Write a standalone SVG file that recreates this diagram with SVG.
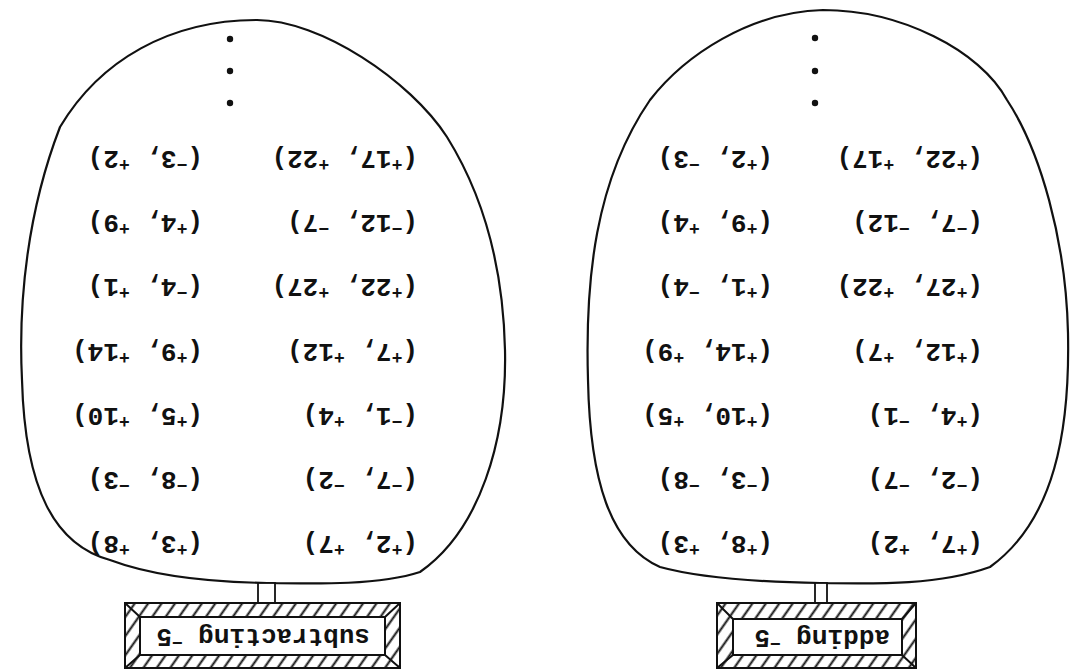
<svg xmlns="http://www.w3.org/2000/svg" width="1070" height="670" viewBox="0 0 1070 670">
<defs>
<style>
.egg{fill:none;stroke:#111;stroke-width:2.2}
.box{fill:none;stroke:#111;stroke-width:2}
.stem{fill:#fff;stroke:#111;stroke-width:1.8}
.dot{fill:#111}
.p{font-family:"Liberation Mono","DejaVu Sans Mono",monospace;font-size:26px;font-weight:bold;fill:#111}
.s{font-size:18px;baseline-shift:8px}
.lab{font-family:"Liberation Mono","DejaVu Sans Mono",monospace;font-size:26px;font-weight:bold;fill:#111}
</style>
<pattern id="hatch" width="11" height="11" patternUnits="userSpaceOnUse" patternTransform="rotate(35)">
<line x1="5.5" y1="0" x2="5.5" y2="11" stroke="#111" stroke-width="2"/>
</pattern>
</defs>
<rect width="1070" height="670" fill="#fff"/>

<g id="machine-subtracting">
<path class="egg" d="M257,20 C320,20 410,80 447,137 C480,190 503,260 505,350 C507,440 480,530 420,572 C380,585 320,584 267,583 C200,582 150,575 110,560 C55,545 25,490 22,380 C18,300 28,210 60,127 C100,60 170,20 257,20 Z"/>
<circle class="dot" cx="230" cy="39" r="3.2"/>
<circle class="dot" cx="230" cy="71" r="3.2"/>
<circle class="dot" cx="230" cy="103" r="3.2"/>
<text class="p" x="203" y="151" transform="rotate(180 203 151)">(<tspan class="s">−</tspan>3, <tspan class="s">+</tspan>2)</text>
<text class="p" x="203" y="215" transform="rotate(180 203 215)">(<tspan class="s">+</tspan>4, <tspan class="s">+</tspan>9)</text>
<text class="p" x="203" y="279" transform="rotate(180 203 279)">(<tspan class="s">−</tspan>4, <tspan class="s">+</tspan>1)</text>
<text class="p" x="203" y="344" transform="rotate(180 203 344)">(<tspan class="s">+</tspan>9, <tspan class="s">+</tspan>14)</text>
<text class="p" x="203" y="408" transform="rotate(180 203 408)">(<tspan class="s">+</tspan>5, <tspan class="s">+</tspan>10)</text>
<text class="p" x="203" y="472" transform="rotate(180 203 472)">(<tspan class="s">−</tspan>8, <tspan class="s">−</tspan>3)</text>
<text class="p" x="203" y="536" transform="rotate(180 203 536)">(<tspan class="s">+</tspan>3, <tspan class="s">+</tspan>8)</text>
<text class="p" x="418" y="151" transform="rotate(180 418 151)">(<tspan class="s">+</tspan>17, <tspan class="s">+</tspan>22)</text>
<text class="p" x="418" y="215" transform="rotate(180 418 215)">(<tspan class="s">−</tspan>12, <tspan class="s">−</tspan>7)</text>
<text class="p" x="418" y="279" transform="rotate(180 418 279)">(<tspan class="s">+</tspan>22, <tspan class="s">+</tspan>27)</text>
<text class="p" x="418" y="344" transform="rotate(180 418 344)">(<tspan class="s">+</tspan>7, <tspan class="s">+</tspan>12)</text>
<text class="p" x="418" y="408" transform="rotate(180 418 408)">(<tspan class="s">−</tspan>1, <tspan class="s">+</tspan>4)</text>
<text class="p" x="418" y="472" transform="rotate(180 418 472)">(<tspan class="s">−</tspan>7, <tspan class="s">−</tspan>2)</text>
<text class="p" x="418" y="536" transform="rotate(180 418 536)">(<tspan class="s">+</tspan>2, <tspan class="s">+</tspan>7)</text>
</g>

<g id="machine-adding">
<path class="egg" d="M823,10 C900,10 980,50 1007,100 C1040,150 1066,240 1068,333 C1070,430 1055,520 990,567 C940,585 880,584 820,583 C760,582 700,578 660,567 C610,545 590,480 588,380 C585,280 595,180 650,100 C685,55 750,12 823,10 Z"/>
<circle class="dot" cx="815" cy="38" r="3.2"/>
<circle class="dot" cx="815" cy="71" r="3.2"/>
<circle class="dot" cx="815" cy="103" r="3.2"/>
<text class="p" x="773" y="151" transform="rotate(180 773 151)">(<tspan class="s">+</tspan>2, <tspan class="s">−</tspan>3)</text>
<text class="p" x="773" y="215" transform="rotate(180 773 215)">(<tspan class="s">+</tspan>9, <tspan class="s">+</tspan>4)</text>
<text class="p" x="773" y="279" transform="rotate(180 773 279)">(<tspan class="s">+</tspan>1, <tspan class="s">−</tspan>4)</text>
<text class="p" x="773" y="344" transform="rotate(180 773 344)">(<tspan class="s">+</tspan>14, <tspan class="s">+</tspan>9)</text>
<text class="p" x="773" y="408" transform="rotate(180 773 408)">(<tspan class="s">+</tspan>10, <tspan class="s">+</tspan>5)</text>
<text class="p" x="773" y="472" transform="rotate(180 773 472)">(<tspan class="s">−</tspan>3, <tspan class="s">−</tspan>8)</text>
<text class="p" x="773" y="536" transform="rotate(180 773 536)">(<tspan class="s">+</tspan>8, <tspan class="s">+</tspan>3)</text>
<text class="p" x="983" y="151" transform="rotate(180 983 151)">(<tspan class="s">+</tspan>22, <tspan class="s">+</tspan>17)</text>
<text class="p" x="983" y="215" transform="rotate(180 983 215)">(<tspan class="s">−</tspan>7, <tspan class="s">−</tspan>12)</text>
<text class="p" x="983" y="279" transform="rotate(180 983 279)">(<tspan class="s">+</tspan>27, <tspan class="s">+</tspan>22)</text>
<text class="p" x="983" y="344" transform="rotate(180 983 344)">(<tspan class="s">+</tspan>12, <tspan class="s">+</tspan>7)</text>
<text class="p" x="983" y="408" transform="rotate(180 983 408)">(<tspan class="s">+</tspan>4, <tspan class="s">−</tspan>1)</text>
<text class="p" x="983" y="472" transform="rotate(180 983 472)">(<tspan class="s">−</tspan>2, <tspan class="s">−</tspan>7)</text>
<text class="p" x="983" y="536" transform="rotate(180 983 536)">(<tspan class="s">+</tspan>7, <tspan class="s">+</tspan>2)</text>
</g>

<g id="connectors">
<rect class="stem" x="258" y="583" width="17" height="20"/>
<rect class="stem" x="815" y="583" width="12" height="20"/>
</g>

<g id="label-subtracting">
<path d="M125,603 H400 V668 H125 Z M140,617 H385 V655 H140 Z" fill="url(#hatch)" fill-rule="evenodd"/>
<rect class="box" x="125" y="603" width="275" height="65"/>
<rect class="box" x="140" y="617" width="245" height="38" fill="#fff"/>
<path class="box" d="M125,603 L140,617 M400,603 L385,617 M125,668 L140,655 M400,668 L385,655"/>
<text class="lab" x="370" y="629" transform="rotate(180 370 629)">subtracting <tspan class="s">−</tspan>5</text>
</g>

<g id="label-adding">
<path d="M717,603 H916 V668 H717 Z M733,619 H902 V655 H733 Z" fill="url(#hatch)" fill-rule="evenodd"/>
<rect class="box" x="717" y="603" width="199" height="65"/>
<rect class="box" x="733" y="619" width="169" height="36" fill="#fff"/>
<path class="box" d="M717,603 L733,619 M916,603 L902,619 M717,668 L733,655 M916,668 L902,655"/>
<text class="lab" x="890" y="630" transform="rotate(180 890 630)">adding <tspan class="s">−</tspan>5</text>
</g>
</svg>
